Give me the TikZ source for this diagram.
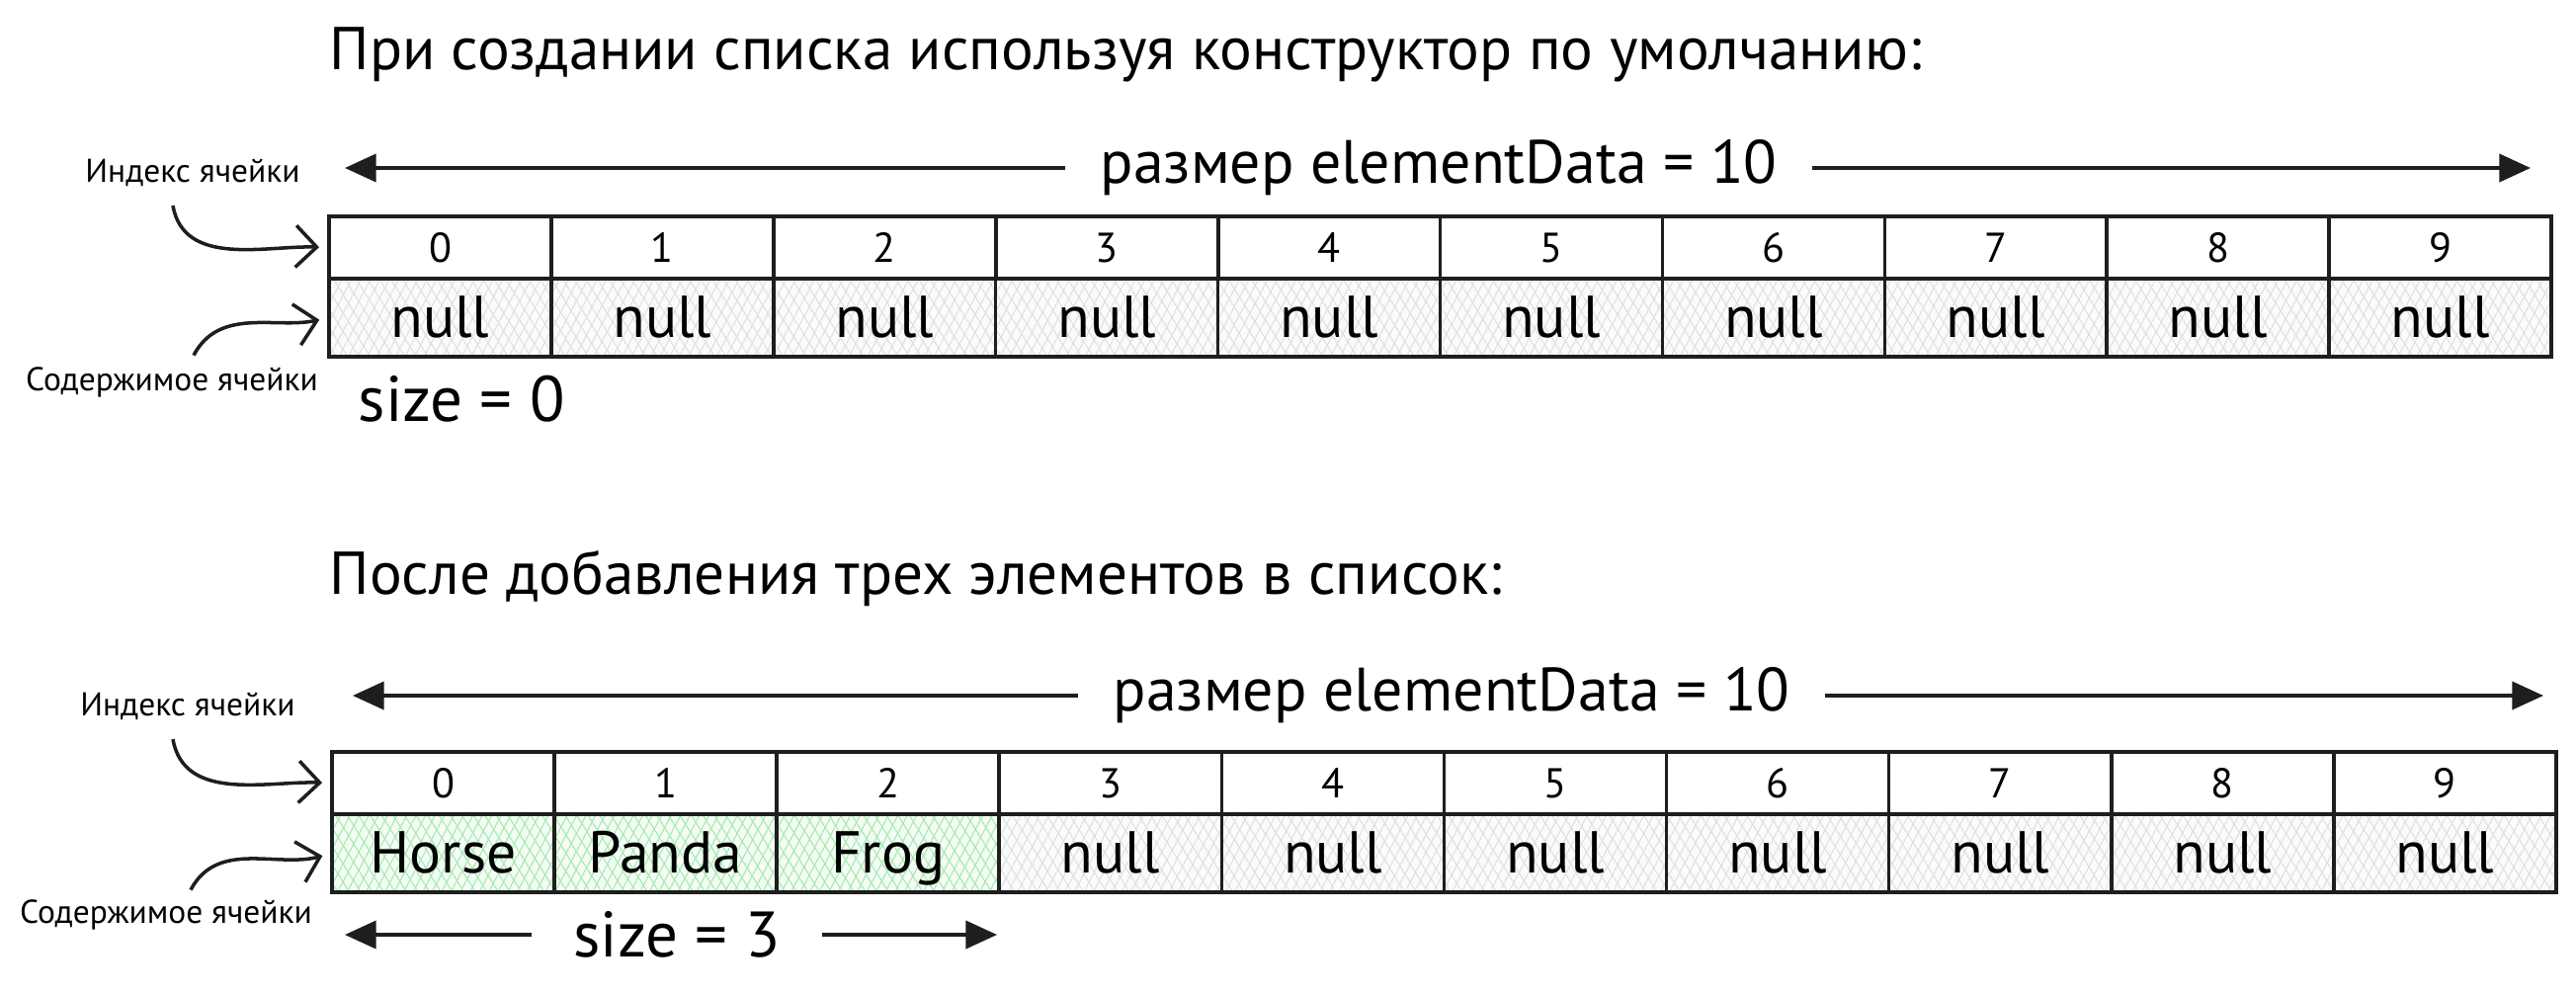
\documentclass[tikz,border=0pt]{standalone}
\usepackage{fontspec}
\setmainfont{PT Sans}
\usepackage{xcolor}
\usetikzlibrary{positioning, arrows.meta, patterns.meta}

\definecolor{inkblack}{HTML}{1E1E1E}
\definecolor{hatchgrey}{HTML}{DCE0E4}
\definecolor{hatchgreen}{HTML}{A3EAAE}

\tikzset{
  cell/.style={draw=inkblack, line width=1pt, rectangle, minimum width=2.249cm, outer sep=0pt, inner sep=0pt},
  idxcell/.style={cell, minimum height=0.63cm, font=\fontsize{12}{14}\selectfont, text height=8.5pt, text depth=0pt},
  datacell/.style={cell, minimum height=0.79cm, font=\fontsize{17}{20}\selectfont, text height=13pt, text depth=1.5pt},
  cellfill/.style={preaction={fill=#1!12},
    preaction={pattern={Lines[angle=62,distance=2.4pt,line width=0.3pt]}, pattern color=#1},
    preaction={pattern={Lines[angle=-58,distance=2.8pt,line width=0.3pt]}, pattern color=#1}},
  titletext/.style={font=\fontsize{17.4}{20}\selectfont, anchor=west, inner sep=0pt},
  sizetext/.style={font=\fontsize{17.6}{20}\selectfont, inner xsep=10pt, inner ysep=0pt},
  labeltext/.style={font=\fontsize{9.5}{11}\selectfont, inner sep=1pt},
  bigarrow/.style={draw=inkblack, line width=1pt, -{Triangle[length=9pt,width=8pt]}},
  thinarrow/.style={draw=inkblack, line width=1pt, -{Straight Barb[length=6pt,width=12pt]}, shorten >=0.1cm}
}

\begin{document}
\begin{tikzpicture}[x=0.01cm, y=-0.01cm]
    \useasboundingbox (0,0) rectangle (2607,1006);

    % Default constructor
    \node[titletext] (titleA) at (333,55) {При создании списка используя конструктор по умолчанию:};

    % Array length
    \node[sizetext] (lenA) at (1456,170) {размер elementData = 10};
    \coordinate (lenAleft) at (349,170);
    \coordinate (lenAright) at (2561,170);
    \draw[bigarrow] (lenA.west) -- (lenAleft);
    \draw[bigarrow] (lenA.east) -- (lenAright);

    % Cells
    \foreach \i in {0,...,9} {
        \node[idxcell, anchor=north west] (ta\i) at ({333+224.9*\i},219) {\i};
        \node[datacell, cellfill=hatchgrey, below=0pt of ta\i] (da\i) {null};
    }

    % Side labels
    \node[labeltext] (idxA) at (195,175) {Индекс ячейки};
    \node[labeltext] (cntA) at (174,387) {Содержимое ячейки};
    \draw[thinarrow] ([xshift=-0.2cm, yshift=-0.15cm]idxA.south) to[out=-80, in=178] (ta0.west);
    \draw[thinarrow] ([xshift=0.22cm, yshift=0.08cm]cntA.north) to[out=62, in=192] (da0.west);

    \node[sizetext, anchor=west, inner xsep=0pt, font=\fontsize{18.5}{21}\selectfont] (countA) at (362,404) {size = 0};

    % After adding three elements
    \node[titletext] (titleB) at (333,585) {После добавления трех элементов в список:};

    % Array length
    \node[sizetext] (lenB) at (1469,704) {размер elementData = 10};
    \coordinate (lenBleft) at (357,704);
    \coordinate (lenBright) at (2574,704);
    \draw[bigarrow] (lenB.west) -- (lenBleft);
    \draw[bigarrow] (lenB.east) -- (lenBright);

    % Cells
    \foreach \i/\val/\hue in {0/Horse/hatchgreen, 1/Panda/hatchgreen, 2/Frog/hatchgreen,
        3/null/hatchgrey, 4/null/hatchgrey, 5/null/hatchgrey, 6/null/hatchgrey,
        7/null/hatchgrey, 8/null/hatchgrey, 9/null/hatchgrey} {
        \node[idxcell, anchor=north west] (tb\i) at ({336+225.1*\i},761) {\i};
        \node[datacell, cellfill=\hue, below=0pt of tb\i] (db\i) {\val};
    }

    % Side labels
    \node[labeltext] (idxB) at (190,715) {Индекс ячейки};
    \node[labeltext] (cntB) at (168,926) {Содержимое ячейки};
    \draw[thinarrow] ([xshift=-0.15cm, yshift=-0.15cm]idxB.south) to[out=-80, in=178] (tb0.west);
    \draw[thinarrow] ([xshift=0.25cm, yshift=0.06cm]cntB.north) to[out=62, in=195] (db0.west);

    % Used size
    \node[sizetext, inner xsep=12pt, font=\fontsize{18.5}{21}\selectfont] (countB) at (685,946) {size = 3};
    \coordinate (countBleft) at (349,946);
    \coordinate (countBright) at (1009,946);
    \draw[bigarrow] (countB.west) -- (countBleft);
    \draw[bigarrow] (countB.east) -- (countBright);

\end{tikzpicture}
\end{document}
